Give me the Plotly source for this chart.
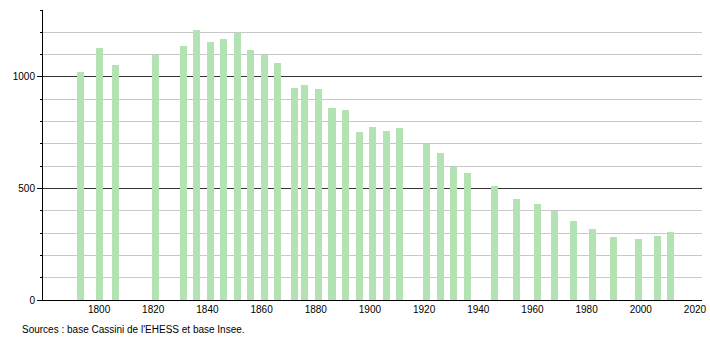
import plotly.graph_objects as go

years = [1793, 1800, 1806, 1821, 1831, 1836, 1841, 1846, 1851, 1856, 1861, 1866,
         1872, 1876, 1881, 1886, 1891, 1896, 1901, 1906, 1911, 1921, 1926, 1931,
         1936, 1946, 1954, 1962, 1968, 1975, 1982, 1990, 1999, 2006, 2011]
population = [1020, 1131, 1055, 1099, 1140, 1212, 1155, 1172, 1196, 1122, 1099, 1064,
              952, 965, 946, 862, 853, 754, 777, 759, 772, 700, 660, 596,
              570, 512, 453, 431, 398, 355, 319, 283, 274, 287, 305]
x_ticks = [1800, 1820, 1840, 1860, 1880, 1900, 1920, 1940, 1960, 1980, 2000, 2020]
y_ticks = [0, 500, 1000]
source_text = "Sources : base Cassini de l'EHESS et base Insee."

fig = go.Figure(go.Bar(x=years, y=population, width=2.6,
                       marker=dict(color="#b3e3b3", line=dict(width=0))))

font = dict(family="Liberation Sans, Arial, sans-serif", size=10, color="#000")
W, H = 710, 340
ml, mr, mt, mb = 43, 8, 10, 40
ph = H - mt - mb
fig.update_layout(
    width=W, height=H, margin=dict(l=ml, r=mr, t=mt, b=mb, autoexpand=False),
    paper_bgcolor="white", plot_bgcolor="white", font=font, showlegend=False,
    bargap=0,
    xaxis=dict(range=[1779.3, 2022.6], tickvals=x_ticks, showgrid=False,
               showline=True, linecolor="#000", linewidth=1, ticks="",
               zeroline=False, tickfont=font, fixedrange=True, automargin=False),
    yaxis=dict(range=[0, 1300], tickvals=y_ticks, showgrid=True, gridcolor="#333",
               gridwidth=1, showline=True, linecolor="#000", linewidth=1,
               ticks="outside", ticklen=5, tickcolor="#000", zeroline=False,
               tickfont=font, fixedrange=True, automargin=False,
               minor=dict(dtick=100, tick0=0, showgrid=True, gridcolor="#c8c8c8",
                          gridwidth=1, ticks="outside", ticklen=2, tickcolor="#000")),
    annotations=[dict(text=source_text, xref="paper", yref="paper",
                      x=-(ml - 20) / (W - ml - mr), y=-(329 - mt - ph) / ph,
                      xanchor="left", yanchor="middle", showarrow=False, font=font)],
)
fig.write_html("out.html")
